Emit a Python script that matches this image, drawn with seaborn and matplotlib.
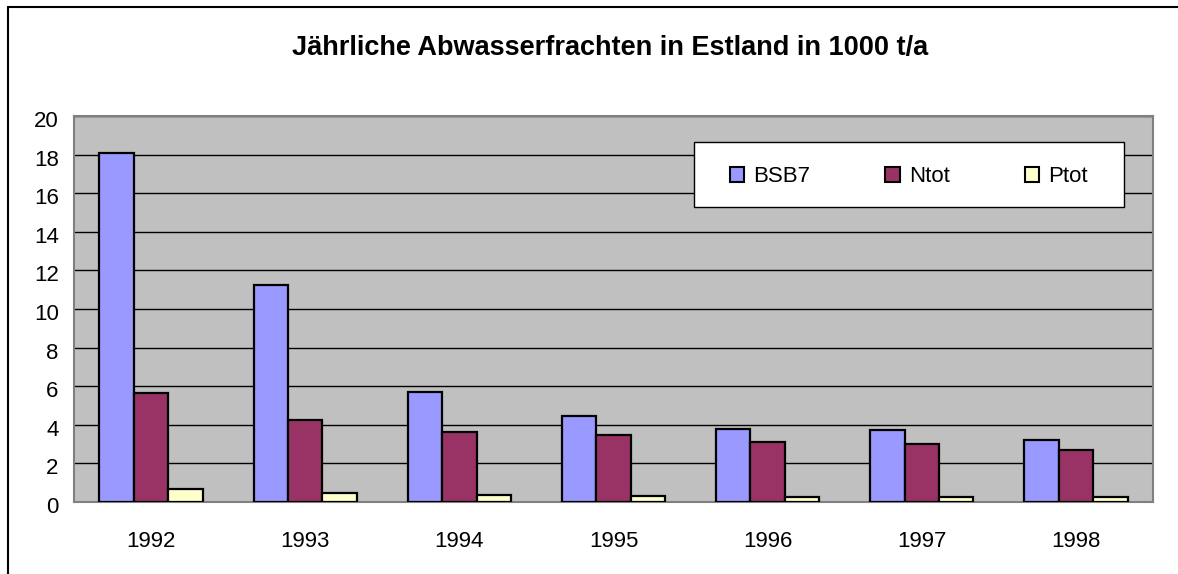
import numpy as np
import pandas as pd
import matplotlib
matplotlib.use('Agg')
import matplotlib.pyplot as plt
import seaborn as sns
from matplotlib.lines import Line2D
from matplotlib.patches import Rectangle
from matplotlib.ticker import FixedLocator
from matplotlib.transforms import ScaledTranslation

# ### chart data (1000 t/a)
years = ['1992', '1993', '1994', '1995', '1996', '1997', '1998']
bsb7 = [18.1, 11.25, 5.7, 4.45, 3.77, 3.72, 3.2]
ntot = [5.65, 4.23, 3.62, 3.49, 3.1, 3.0, 2.68]
ptot = [0.69, 0.47, 0.35, 0.31, 0.27, 0.26, 0.26]
series = ['BSB7', 'Ntot', 'Ptot']
colors = ['#9999FF', '#993366', '#FFFFCC']

df = pd.DataFrame({'Jahr': years, 'BSB7': bsb7, 'Ntot': ntot, 'Ptot': ptot})
df = df.melt(id_vars='Jahr', var_name='Parameter', value_name='Wert')

sns.set_style('white')
plt.rcParams['font.family'] = ['Liberation Sans', 'DejaVu Sans']
plt.rcParams['text.color'] = 'black'
plt.rcParams['xtick.labelcolor'] = 'black'
plt.rcParams['ytick.labelcolor'] = 'black'

fig = plt.figure(figsize=(11.78, 5.74), dpi=100)
ax = fig.add_axes([74/1178, 1-502/574, (1153-74)/1178, (502-116)/574])
ax.set_facecolor('#C0C0C0')

sns.barplot(data=df, x='Jahr', y='Wert', hue='Parameter', hue_order=series,
            palette=colors, width=0.67, edgecolor='black', linewidth=1.6,
            saturation=1, ax=ax, zorder=3)

ax.set_ylim(0, 20)
ax.set_xlim(-0.5, len(years) - 0.5)
ax.set_yticks(np.arange(0, 21, 2))
ax.yaxis.grid(True, color='black', linewidth=1, zorder=1)
ax.set_axisbelow(True)
ax.set_xlabel('')
ax.set_ylabel('')

# x ticks sit between the groups
ax.xaxis.set_minor_locator(FixedLocator(np.arange(-0.5, len(years), 1)))
ax.tick_params(axis='x', which='major', length=0, labelsize=16, pad=21)
ax.tick_params(axis='x', which='minor', length=6, width=1, color='#404040', direction='out')
ax.tick_params(axis='y', length=6, width=1, color='#404040', direction='out', labelsize=16, pad=5)

# y labels sit a touch below their ticks in the original
shift = ScaledTranslation(0, -3/100, fig.dpi_scale_trans)
for lbl in ax.get_yticklabels():
    lbl.set_transform(lbl.get_transform() + shift)

for s in ax.spines.values():
    s.set_color('#808080')
    s.set_linewidth(1.5)
    s.set_visible(True)

# legend box drawn by hand, entries placed inside without a frame
ax.add_patch(Rectangle((0.5746, 0.7642), 0.3985, 0.1684, transform=ax.transAxes,
                       facecolor='white', edgecolor='black', linewidth=1, zorder=5))
leg = ax.legend(loc='center left', bbox_to_anchor=(0.6080, 0.843, 0.3314, 0.0),
                mode='expand', ncol=3, fontsize=16, frameon=False,
                borderaxespad=0, borderpad=0,
                handlelength=0.65, handleheight=0.65, handletextpad=0.4)
leg.set_zorder(6)
for h in leg.legend_handles:
    h.set_edgecolor('black')
    h.set_linewidth(1.5)

fig.text(610/1178, 1-48/574, 'Jährliche Abwasserfrachten in Estland in 1000 t/a',
         ha='center', va='center', fontsize=19.5, fontweight='bold')

# outer chart frame (left and top edge)
fig.add_artist(Line2D([8/1178, 8/1178], [0, 1-7/574], color='black', linewidth=1.5))
fig.add_artist(Line2D([8/1178, 1], [1-7/574, 1-7/574], color='black', linewidth=1.5))

fig.savefig('out.png', dpi=100)
